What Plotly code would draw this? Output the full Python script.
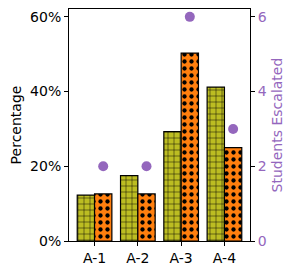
import plotly.graph_objects as go

categories = ["A-1", "A-2", "A-3", "A-4"]
pct_olive = [0.123, 0.175, 0.293, 0.412]
pct_orange = [0.126, 0.126, 0.503, 0.25]
escalated = [2, 2, 6, 3]

pos = list(range(len(categories)))
bw = 0.4

fig = go.Figure()
fig.add_trace(go.Bar(
    x=pos, y=pct_olive, width=bw, offset=-bw,
    marker=dict(color="#bcbd22", line=dict(color="black", width=1.2),
                pattern=dict(shape="+", fgcolor="black", bgcolor="#bcbd22", size=6, solidity=0.15, fillmode="replace")),
    showlegend=False, yaxis="y"))
fig.add_trace(go.Bar(
    x=pos, y=pct_orange, width=bw, offset=0,
    marker=dict(color="#ff7f0e", line=dict(color="black", width=1.2),
                pattern=dict(shape=".", fgcolor="black", bgcolor="#ff7f0e", size=7, solidity=0.3, fillmode="replace")),
    showlegend=False, yaxis="y"))
fig.add_trace(go.Scatter(
    x=[p + bw / 2 for p in pos], y=escalated, mode="markers",
    marker=dict(color="#9467bd", size=10),
    showlegend=False, yaxis="y2"))

font = dict(family="DejaVu Sans", size=14, color="black")
purple = "#9467bd"
pfont = dict(family="DejaVu Sans", size=14, color=purple)
fig.update_layout(
    width=289, height=266,
    margin=dict(l=61, r=47, t=1, b=33, autoexpand=False),
    plot_bgcolor="white", paper_bgcolor="white",
    barmode="overlay",
    font=font,
    xaxis=dict(range=[-0.59, 3.59], tickvals=pos, ticktext=categories, automargin=False,
               showgrid=False, zeroline=False, showline=True, linecolor="black", linewidth=1,
               mirror=True, ticks="outside", ticklen=4, tickcolor="black", tickfont=font),
    yaxis=dict(range=[0, 0.621], tickvals=[0, 0.2, 0.4, 0.6], tickformat=".0%", automargin=False,
               showgrid=False, zeroline=False, showline=True, linecolor="black", linewidth=1,
               ticks="outside", ticklen=4, tickcolor="black", tickfont=font,
               title=dict(text="Percentage", font=font, standoff=6)),
    yaxis2=dict(range=[0, 6.21], tickvals=[0, 2, 4, 6], overlaying="y", side="right", automargin=False,
                showgrid=False, zeroline=False, showline=True, linecolor="black", linewidth=1,
                ticks="outside", ticklen=4, tickcolor="black",
                tickfont=pfont,
                title=dict(text="Students Escalated", font=pfont, standoff=6)),
)
fig.write_html("out.html")
